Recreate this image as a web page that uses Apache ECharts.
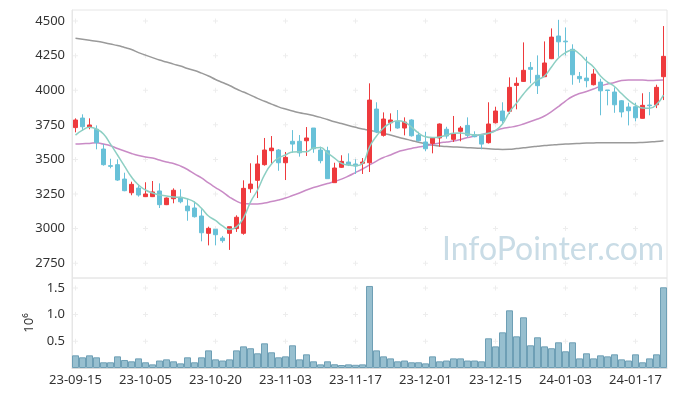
<!DOCTYPE html>
<html>
<head>
<meta charset="utf-8">
<script src="https://cdn.jsdelivr.net/npm/echarts@6/dist/echarts.min.js"></script>
<style>
html,body{margin:0;padding:0;background:#fff;}
#chart{width:677px;height:396px;}
</style>
</head>
<body>
<div id="chart"></div>
<script>
const dates = [
'23-09-15','23-09-18','23-09-19','23-09-20','23-09-21','23-09-22','23-09-25','23-09-26','23-09-27',
'23-10-04','23-10-05','23-10-06','23-10-10','23-10-11','23-10-12','23-10-13','23-10-16','23-10-17','23-10-18','23-10-19','23-10-20',
'23-10-23','23-10-24','23-10-25','23-10-26','23-10-27','23-10-30','23-10-31',
'23-11-01','23-11-02','23-11-03','23-11-06','23-11-07','23-11-08','23-11-09','23-11-10','23-11-13','23-11-14','23-11-15','23-11-16','23-11-17',
'23-11-20','23-11-21','23-11-22','23-11-23','23-11-24','23-11-27','23-11-28','23-11-29','23-11-30',
'23-12-01','23-12-04','23-12-05','23-12-06','23-12-07','23-12-08','23-12-11','23-12-12','23-12-13','23-12-14','23-12-15',
'23-12-18','23-12-19','23-12-20','23-12-21','23-12-22','23-12-26','23-12-27','23-12-28',
'24-01-02','24-01-03','24-01-04','24-01-05','24-01-08','24-01-09','24-01-10','24-01-11','24-01-12',
'24-01-15','24-01-16','24-01-17','24-01-18','24-01-19','24-01-22','24-01-23'
];
const opens = [3730,3799,3732,3718,3575,3455,3462,3358,3259,3293,3231,3231,3272,3173,3216,3226,3163,3149,3091,2966,
2995,2932,2966,3000,2966,3288,3349,3462,3563,3568,3476,3631,3631,3635,3727,3568,3563,3332,3443,3481,
3467,3472,3476,3864,3674,3765,3775,3727,3785,3676,3626,3616,3655,3718,3645,3703,3746,3679,3674,3621,
3765,3850,3848,4035,4064,4165,4108,4098,4228,4392,4355,4296,4100,4088,4040,4059,4002,3987,3924,3879,
3881,3797,3893,3895,4098];
const closes = [3785,3736,3749,3621,3462,3450,3351,3274,3320,3243,3250,3265,3173,3221,3277,3194,3129,3086,2970,3002,
2956,2913,3014,3082,3291,3322,3467,3568,3582,3476,3515,3611,3548,3655,3577,3491,3361,3438,3486,3462,
3452,3481,3929,3698,3792,3785,3727,3770,3671,3635,3577,3655,3756,3669,3684,3727,3674,3664,3611,3756,
3850,3780,4021,4050,4144,4151,4033,4197,4384,4350,4350,4112,4083,4069,4117,3996,3998,3895,3843,3852,
3801,3891,3888,4021,4245];
const lows = [3696,3707,3718,3573,3455,3436,3345,3270,3241,3231,3228,3228,3149,3170,3183,3183,3057,3080,2908,2879,
2879,2898,2846,2976,2956,3259,3221,3455,3462,3418,3351,3548,3520,3525,3548,3472,3361,3332,3438,3452,
3395,3395,3409,3690,3665,3703,3722,3674,3665,3630,3559,3544,3592,3650,3626,3631,3660,3660,3573,3615,
3760,3761,3828,3862,4060,4050,3973,4095,4225,4242,4252,4040,4054,4021,4035,3819,3891,3837,3804,3746,
3775,3795,3819,3871,3929];
const highs = [3797,3826,3797,3746,3611,3505,3501,3404,3339,3320,3335,3344,3327,3225,3291,3284,3216,3197,3140,3014,
2995,2947,3014,3096,3349,3472,3530,3655,3669,3575,3554,3712,3676,3734,3727,3592,3592,3476,3530,3544,
3501,3510,4050,3913,3840,3833,3857,3804,3790,3700,3700,3660,3760,3736,3814,3741,3804,3703,3680,3913,
3881,3913,4093,4093,4346,4204,4252,4353,4447,4509,4454,4332,4132,4242,4153,4083,4002,4021,3929,3910,
3910,3978,3987,4040,4464];
const ma5 = [3676,3712,3732,3720,3684,3611,3532,3452,3373,3315,3279,3257,3243,3236,3228,3226,3214,3192,3147,3091,
3059,3019,2994,3012,3077,3192,3279,3388,3467,3510,3532,3554,3556,3556,3582,3586,3546,3510,3472,3460,
3456,3471,3590,3669,3727,3763,3780,3770,3734,3691,3664,3658,3662,3676,3689,3691,3684,3676,3680,3689,
3709,3756,3842,3907,3973,4030,4074,4103,4168,4233,4272,4290,4262,4211,4168,4103,4059,4027,3976,3929,
3893,3871,3869,3897,3965];
const ma20 = [3611,3614,3616,3620,3611,3599,3579,3561,3543,3528,3517,3510,3496,3481,3471,3452,3427,3395,3366,3330,
3297,3265,3228,3199,3181,3178,3178,3185,3196,3207,3221,3239,3257,3279,3297,3311,3326,3340,3358,3380,
3405,3431,3460,3488,3514,3532,3554,3568,3579,3590,3597,3608,3619,3626,3633,3644,3658,3669,3680,3694,
3709,3723,3732,3741,3756,3774,3792,3814,3846,3882,3922,3955,3976,3991,4009,4030,4045,4056,4070,4074,
4074,4074,4070,4072,4074];
const ma120 = [4375,4368,4361,4354,4345,4334,4323,4309,4294,4272,4254,4236,4218,4204,4189,4175,4157,4143,4124,4103,
4078,4056,4034,4009,3987,3965,3941,3920,3900,3880,3864,3850,3837,3828,3817,3804,3788,3772,3759,3745,
3732,3720,3711,3700,3689,3676,3662,3649,3637,3624,3613,3604,3597,3593,3590,3588,3585,3582,3580,3577,
3574,3572,3573,3579,3584,3590,3595,3600,3604,3608,3611,3614,3616,3618,3619,3621,3621,3621,3621,3621,
3621,3623,3626,3629,3635];
const volumes = [237000,200000,237000,200000,107000,107000,218000,150000,125000,180000,107000,68000,140000,162000,125000,87000,200000,107000,200000,330000,
162000,140000,162000,330000,405000,370000,275000,462000,294000,200000,218000,425000,162000,256000,125000,68000,125000,70000,56000,68000,
60000,68000,1536000,330000,218000,180000,125000,140000,107000,107000,87000,218000,125000,140000,180000,180000,140000,140000,125000,556000,
405000,668000,1080000,593000,949000,425000,575000,405000,370000,481000,313000,481000,180000,275000,180000,237000,218000,256000,162000,140000,
256000,107000,180000,256000,1511000];
const priceTicks = [2750,3000,3250,3500,3750,4000,4250,4500];
const volumeTicks = [500000,1000000,1500000];
const labelEvery = 10;

const ohlc = dates.map((d,i)=>[opens[i],closes[i],lows[i],highs[i]]);
const xTickIdx = dates.map((d,i)=>i).filter(i=>i%labelEvery===0);
const crossPrice = [], crossVol = [];
xTickIdx.forEach(i=>{
  priceTicks.forEach(v=>crossPrice.push([i,v]));
  volumeTicks.forEach(v=>crossVol.push([i,v]));
});
const crossSymbol = 'path://M2,0H3V5H2Z M0,2H5V3H0Z';
const FONT = 'Noto Sans';

const chart = echarts.init(document.getElementById('chart'), null, {renderer:'canvas'});
chart.setOption({
  animation:false,
  backgroundColor:'#fff',
  textStyle:{fontFamily:FONT},
  grid:[
    {left:72, top:10, width:595, height:268, show:true, borderColor:'#e6e6e6', borderWidth:1, backgroundColor:'transparent'},
    {left:72, top:278, width:595, height:90, show:true, borderColor:'#e6e6e6', borderWidth:1, backgroundColor:'transparent'}
  ],
  xAxis:[
    {type:'category', gridIndex:0, data:dates, boundaryGap:true,
     axisLine:{show:false}, axisTick:{show:false}, axisLabel:{show:false}, splitLine:{show:false}},
    {type:'category', gridIndex:1, data:dates, boundaryGap:true,
     axisLine:{show:true, lineStyle:{color:'#d9d9d9'}}, axisTick:{show:false},
     axisLabel:{interval:labelEvery-1, color:'#333', fontSize:13, fontFamily:FONT, margin:6},
     splitLine:{show:false}}
  ],
  yAxis:[
    {type:'value', gridIndex:0, min:2643, max:4580, scale:true,
     axisLine:{show:true, lineStyle:{color:'#e6e6e6'}}, axisTick:{show:false},
     axisLabel:{customValues:priceTicks, color:'#333', fontSize:13, fontFamily:FONT, margin:7,
       formatter:v=>String(Math.round(v))},
     splitLine:{show:false}},
    {type:'value', gridIndex:1, min:0, max:1685000,
     name:'10⁶', nameLocation:'middle', nameGap:36, nameRotate:90,
     nameTextStyle:{color:'#333', fontSize:13, fontFamily:FONT},
     axisLine:{show:true, lineStyle:{color:'#e6e6e6'}}, axisTick:{show:false},
     axisLabel:{customValues:volumeTicks, color:'#333', fontSize:13, fontFamily:FONT, margin:7,
       formatter:v=>(v/1e6).toFixed(1)},
     splitLine:{show:false}}
  ],
  graphic:[
    {type:'text', left:442, top:234, silent:true, z:0,
     style:{text:'InfoPointer.com', fill:'#c9dce6', font:'32px Lato'}}
  ],
  series:[
    {type:'scatter', xAxisIndex:0, yAxisIndex:0, data:crossPrice, symbol:crossSymbol, symbolSize:5,
     itemStyle:{color:'#e8e8e8'}, silent:true, z:1},
    {type:'scatter', xAxisIndex:1, yAxisIndex:1, data:crossVol, symbol:crossSymbol, symbolSize:5,
     itemStyle:{color:'#e8e8e8'}, silent:true, z:1},
    {type:'line', xAxisIndex:0, yAxisIndex:0, data:ma120, smooth:true, showSymbol:false,
     lineStyle:{color:'#9a9a9a', width:1.5}, z:3},
    {type:'line', xAxisIndex:0, yAxisIndex:0, data:ma20, smooth:true, showSymbol:false,
     lineStyle:{color:'#c98bc6', width:1.5}, z:3},
    {type:'candlestick', xAxisIndex:0, yAxisIndex:0, data:ohlc, barWidth:5,
     itemStyle:{color:'#ee3a3d', color0:'#68c1d8', borderColor:'#ee3a3d', borderColor0:'#68c1d8', borderWidth:1}, z:4},
    {type:'line', xAxisIndex:0, yAxisIndex:0, data:ma5, smooth:true, showSymbol:false,
     lineStyle:{color:'#8dcfc3', width:1.5}, z:5},
    {type:'bar', xAxisIndex:1, yAxisIndex:1, data:volumes, barCategoryGap:'0%',
     itemStyle:{color:'#97bfcf', borderColor:'#6e9fb5', borderWidth:1}, z:2}
  ]
});
</script>
</body>
</html>
